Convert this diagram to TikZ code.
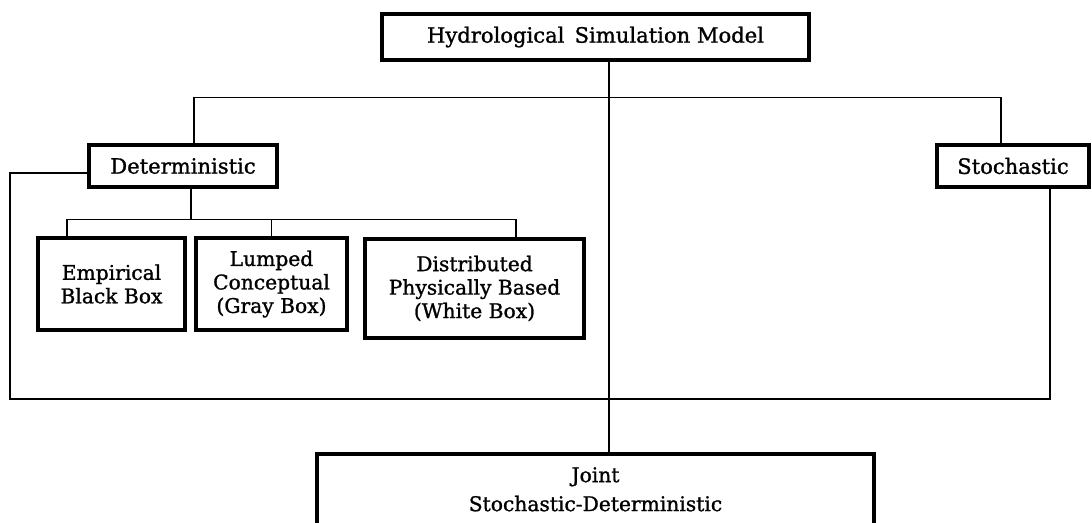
\documentclass[tikz,border=0pt]{standalone}
\usepackage{fontspec}
\setmainfont{DejaVu Serif}[BoldFont=DejaVu Serif,BoldFeatures={FakeBold=1.2}]
\usetikzlibrary{calc}
\tikzset{
	box/.style={draw,line width=2.2pt,inner sep=0pt,align=center,font=\bfseries\fontsize{15}{17}\selectfont},
	link/.style={line width=1.1pt}
}
\begin{document}
\begin{tikzpicture}[x=0.025cm,y=-0.025cm]
	\useasboundingbox (0,0) rectangle (1092,522);
	\clip (0,0) rectangle (1092,522);
	\node[box,minimum width=427*0.025cm,minimum height=46*0.025cm] (model) at (595.5,37) {Hydrological\, Simulation Model};
	\node[box,minimum width=188*0.025cm,minimum height=42*0.025cm] (det) at (183,166) {Deterministic};
	\node[box,minimum width=152*0.025cm,minimum height=42*0.025cm] (sto) at (1013,166) {Stochastic};
	\node[box,minimum width=147*0.025cm,minimum height=92*0.025cm,font=\bfseries\fontsize{14.4}{16.7}\selectfont] (emp) at (111.5,284) {Empirical\\Black Box};
	\node[box,minimum width=151*0.025cm,minimum height=92*0.025cm,font=\bfseries\fontsize{14.4}{16.7}\selectfont] (lum) at (271.5,284) {Lumped\\Conceptual\\(Gray Box)};
	\node[box,minimum width=219*0.025cm,minimum height=99*0.025cm,font=\bfseries\fontsize{14.4}{16.7}\selectfont] (dis) at (474.5,288.5) {Distributed\\Physically Based\\(White Box)};
	\node[box,minimum width=557*0.025cm,minimum height=108*0.025cm,font=\bfseries\fontsize{14.4}{20.6}\selectfont] (joint) at (595.5,508) {Joint\\Stochastic-Deterministic\\\strut};
	% trunk and main branches
	\draw[link] ($(model.south)+(13.5,0)$) -- ($(joint.north)+(13.5,0)$);
	\draw[link] ($(det.north)+(11,0)$) -- ++(0,-46) -| ($(sto.north)+(-12,0)$);
	\draw[link] ($(det.west)+(0,7)$) -| (10,399) -| ($(sto.south)+(37,0)$);
	% deterministic sub-types
	\coordinate (sub) at ($(det.south)+(8,31)$);
	\draw[link] ($(det.south)+(8,0)$) -- (sub);
	\draw[link] ($(emp.north)+(-44.5,0)$) |- (sub) -| ($(dis.north)+(41.5,0)$);
	\draw[link] (lum.north) -- (lum.north|-sub);
\end{tikzpicture}
\end{document}
